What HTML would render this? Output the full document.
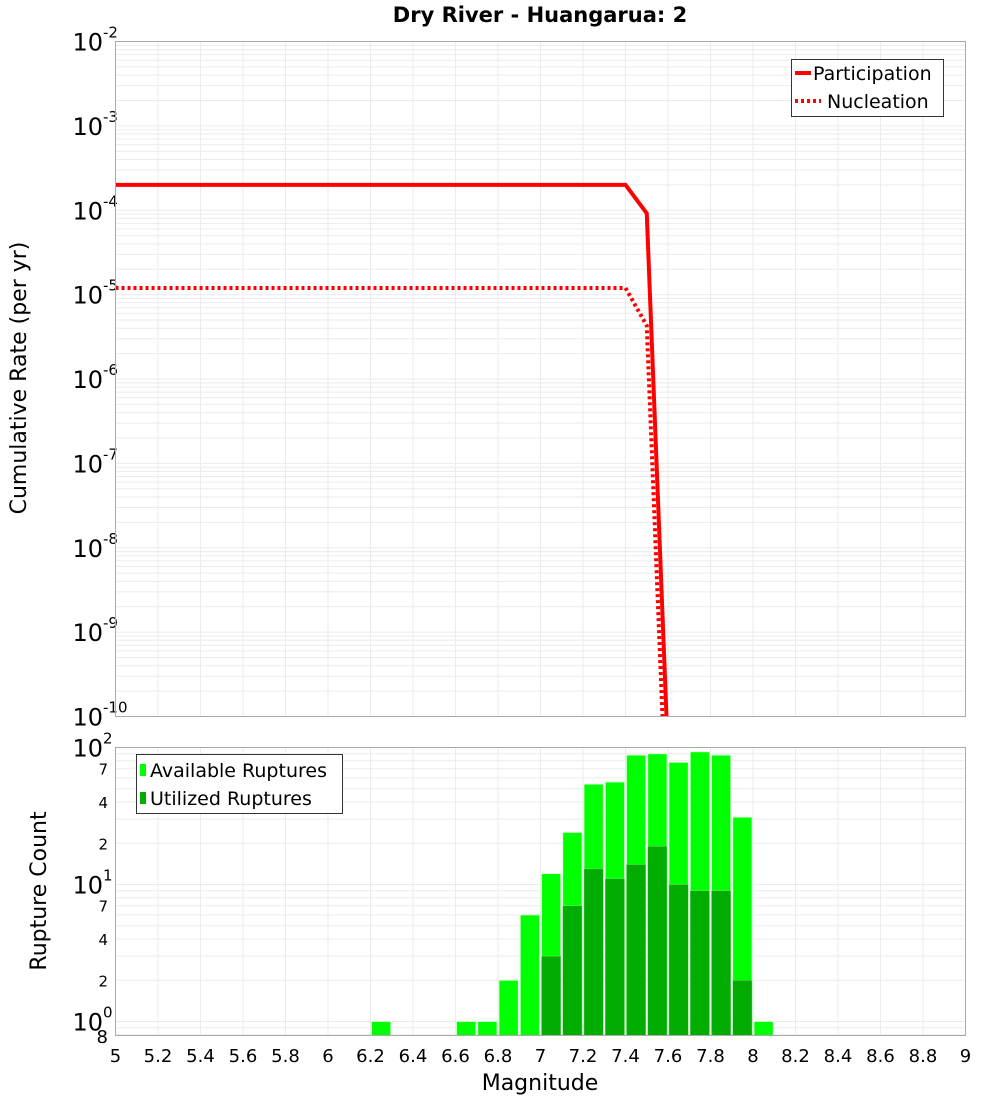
<!DOCTYPE html>
<html><head><meta charset="utf-8">
<style>
html,body{margin:0;padding:0;background:#fff;}
svg{display:block;font-family:"DejaVu Sans","Liberation Sans",sans-serif;}
</style></head>
<body>
<svg id="chart" width="1000" height="1100" viewBox="0 0 1000 1100" xmlns="http://www.w3.org/2000/svg">
<text x="540" y="22" text-anchor="middle" font-size="21" font-weight="bold">Dry River - Huangarua: 2</text>
<g id="topG"></g>
<g id="botG"></g>
<text transform="translate(26,378) rotate(-90)" text-anchor="middle" font-size="22">Cumulative Rate (per yr)</text>
<text transform="translate(46,891) rotate(-90)" text-anchor="middle" font-size="22">Rupture Count</text>
<text x="540" y="1090" text-anchor="middle" font-size="22">Magnitude</text>
</svg>
<script>
// ---- data ----
const partMags = [5.0, 7.4, 7.5, 7.6];
const partRates = [2.0e-4, 2.0e-4, 9.2e-5, 3.5e-11];
const nuclMags = [5.0, 7.4, 7.5, 7.6];
const nuclRates = [1.2e-5, 1.2e-5, 4.3e-6, 2.3e-12];
const binMags = [6.2, 6.6, 6.7, 6.8, 6.9, 7.0, 7.1, 7.2, 7.3, 7.4, 7.5, 7.6, 7.7, 7.8, 7.9, 8.0];
const availCounts = [1, 1, 1, 2, 6, 12, 24, 54, 56, 88, 90, 78, 93, 88, 31, 1];
const usedCounts = [0, 0, 0, 0, 0, 3, 7, 13, 11, 14, 19, 10, 9, 9, 2, 0];
const xTicks = [5,5.2,5.4,5.6,5.8,6,6.2,6.4,6.6,6.8,7,7.2,7.4,7.6,7.8,8,8.2,8.4,8.6,8.8,9];
const topExps = [-2,-3,-4,-5,-6,-7,-8,-9,-10];

const NS = "http://www.w3.org/2000/svg";
function mk(tag, attrs, parent){const e=document.createElementNS(NS,tag);for(const k in attrs)e.setAttribute(k,attrs[k]);parent.appendChild(e);return e;}
const L=115.5,R=965.5;
const xs = m => L + (m-5)/4*(R-L);
const TT=41.5,TB=716.5;
const yTop = v => TT + (-2 - Math.log10(v))/8*(TB-TT);
const BT=747.5,BB=1035.5;
const yBot = v => 1021.5 - Math.log10(v)*137;

const topG = document.getElementById('topG');
const botG = document.getElementById('botG');
const svgEl = document.getElementById('chart');

const defs = mk('defs',{},svgEl);
const cp = mk('clipPath',{id:'ctop'},defs); mk('rect',{x:L,y:TT,width:R-L,height:TB-TT},cp);
const cp2 = mk('clipPath',{id:'cbot'},defs); mk('rect',{x:L,y:BT,width:R-L,height:BB-BT},cp2);

for(let e=-10;e<-2;e++){for(let k=1;k<=9;k++){const v=k*Math.pow(10,e);const y=yTop(v);
  const g=mk('line',{x1:L,x2:R,y1:y,y2:y,stroke:'#ebebeb','stroke-width':1},topG);
  
  }}
xTicks.forEach(t=>{const x=xs(t);
  const g=mk('line',{x1:x,x2:x,y1:TT,y2:TB,stroke:'#ebebeb','stroke-width':1},topG);
  
  
  const g2=mk('line',{x1:x,x2:x,y1:BT,y2:BB,stroke:'#ebebeb','stroke-width':1},botG);
  
  });
topExps.forEach(e=>{const y=yTop(Math.pow(10,e));
  const t=mk('text',{x:103,y:y+9,'text-anchor':'end','font-size':24},topG);
  
  
  t.textContent='10';
  const s=mk('text',{x:103,y:y-4,'font-size':15},topG);
  
  
  s.textContent=String(e);
});
function drawLine(mags,vals,dash,name){
  const pts=mags.map((m,i)=>xs(m)+','+yTop(vals[i])).join(' ');
  const p=mk('polyline',{points:pts,fill:'none',stroke:'#ff0000','stroke-width':4,'clip-path':'url(#ctop)'},topG);
  if(dash)p.setAttribute('stroke-dasharray','3,3');
  
  
}
drawLine(partMags,partRates,false,'participation-line');
drawLine(nuclMags,nuclRates,true,'nucleation-line');
const f1=mk('rect',{x:L,y:TT,width:R-L,height:TB-TT,fill:'none',stroke:'#aaaaaa'},topG);



const lg=mk('g',{},topG);


mk('rect',{x:791.5,y:59.5,width:152,height:57,fill:'#fff',stroke:'#333'},lg);
mk('line',{x1:795,x2:811,y1:73,y2:73,stroke:'#f00','stroke-width':4},lg);
mk('line',{x1:795,x2:821,y1:101,y2:101,stroke:'#f00','stroke-width':4,'stroke-dasharray':'3,3'},lg);
let t1=mk('text',{x:813,y:80,'font-size':19},lg);t1.textContent='Participation';


let t2=mk('text',{x:827,y:108,'font-size':19},lg);t2.textContent='Nucleation';



for(let e=-1;e<2;e++){for(let k=1;k<=9;k++){const v=k*Math.pow(10,e);if(v<0.8)continue;const y=yBot(v);
  const g=mk('line',{x1:L,x2:R,y1:y,y2:y,stroke:'#ebebeb','stroke-width':1},botG);
  
  }}
[0,1,2].forEach(e=>{const y=yBot(Math.pow(10,e));
  const t=mk('text',{x:103,y:y+9,'text-anchor':'end','font-size':24},botG);
  
  
  t.textContent='10';
  const s=mk('text',{x:103,y:y-4,'font-size':15},botG);
  
  
  s.textContent=String(e);});
[[7,1],[4,1],[2,1],[7,0],[4,0],[2,0]].forEach(([k,e])=>{const y=yBot(k*Math.pow(10,e));
  const t=mk('text',{x:108,y:y+6,'text-anchor':'end','font-size':15},botG);
  
  
  t.textContent=String(k);});
{const t=mk('text',{x:108,y:1043,'text-anchor':'end','font-size':18},botG);
 
 
 t.textContent='8';}
const bw=(xs(5.1)-xs(5.0));
binMags.forEach((m,i)=>{
  const x0=xs(m)+1, w=bw-2;
  if(availCounts[i]>0){const y=yBot(availCounts[i]);
    const b=mk('rect',{x:x0,y:y,width:w,height:BB-y,fill:'#00ff00',stroke:'#d8ffd8','stroke-width':0.8,'clip-path':'url(#cbot)'},botG);
    
    }
  if(usedCounts[i]>0){const y=yBot(usedCounts[i]);
    const b=mk('rect',{x:x0,y:y,width:w,height:BB-y,fill:'#00ad00',stroke:'#7fd97f','stroke-width':0.5,'clip-path':'url(#cbot)'},botG);
    
    }
});
const f2=mk('rect',{x:L,y:BT,width:R-L,height:BB-BT,fill:'none',stroke:'#aaaaaa'},botG);


xTicks.forEach(t=>{const tx=mk('text',{x:xs(t),y:1062,'text-anchor':'middle','font-size':18},botG);
  
  
  tx.textContent=String(t);});
const lg2=mk('g',{},botG);


mk('rect',{x:136.5,y:754.5,width:206,height:59,fill:'#fff',stroke:'#333'},lg2);
mk('rect',{x:140,y:764,width:6,height:12,fill:'#00ff00'},lg2);
mk('rect',{x:140,y:792,width:6,height:12,fill:'#00ad00'},lg2);
let t3=mk('text',{x:150,y:777,'font-size':19},lg2);t3.textContent='Available Ruptures';


let t4=mk('text',{x:150,y:805,'font-size':19},lg2);t4.textContent='Utilized Ruptures';


</script>
</body></html>
